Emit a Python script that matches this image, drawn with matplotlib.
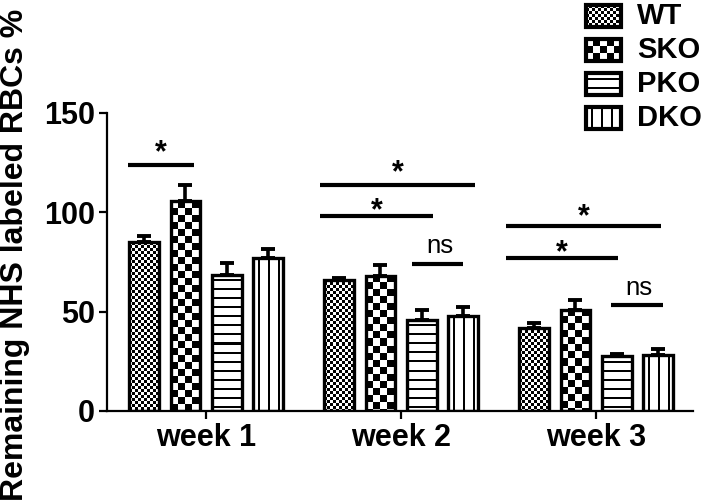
import numpy as np
import matplotlib
matplotlib.use("Agg")
import matplotlib.pyplot as plt
from matplotlib.patches import Rectangle

plt.rcParams['font.family'] = ['Liberation Sans', 'DejaVu Sans']

# data
weeks = ["week 1", "week 2", "week 3"]
groups = ["WT", "SKO", "PKO", "DKO"]
patterns = ["fine", "coarse", "hline", "vline"]
means = {
    "WT":  [85, 66, 42],
    "SKO": [105.5, 68, 51],
    "PKO": [68.5, 46, 27.5],
    "DKO": [77, 48, 28],
}
errs = {
    "WT":  [3, 1, 2.5],
    "SKO": [8.5, 5.5, 5],
    "PKO": [6, 5, 1],
    "DKO": [4.5, 4.5, 3],
}
# significance brackets: (x start, x end, line y, label, label y)
brackets = [
    (-0.40, -0.06, 124, "*", 125.5),
    (0.585, 1.38, 114, "*", 115.5),
    (0.585, 1.164, 98, "*", 96.5),
    (1.056, 1.318, 74, "ns", 79.5),
    (1.54, 2.333, 93, "*", 93.5),
    (1.54, 2.113, 77, "*", 75.5),
    (2.077, 2.344, 53.5, "ns", 58.5),
]
yticks = [0, 50, 100, 150]

W, H = 702, 500
fig = plt.figure(figsize=(W / 100, H / 100), dpi=100)
ax = fig.add_axes([107 / W, 89 / H, 586 / W, 298 / H])
ax.set_xlim(-0.508, 2.497)
ax.set_ylim(0, 150)


def texture(kind, w, h):
    i, j = np.mgrid[0:h, 0:w]
    if kind == "fine":
        return ((i // 3 + j // 3) % 2).astype(float)
    if kind == "coarse":
        return ((i // 7 + j // 7) % 2).astype(float)
    if kind == "hline":
        return ((i + 4) % 9 < 2).astype(float)
    return ((j + 5) % 10 < 2).astype(float)


def fill_texture(axis, kind, x0, x1, y0, y1, z=2.5):
    p = axis.transData.transform([(x0, y0), (x1, y1)])
    w = max(int(round(abs(p[1, 0] - p[0, 0]))), 1)
    h = max(int(round(abs(p[1, 1] - p[0, 1]))), 1)
    axis.imshow(texture(kind, w, h), cmap="gray_r", vmin=0, vmax=1,
                extent=(x0, x1, y0, y1), aspect="auto",
                interpolation="nearest", zorder=z)


x = np.arange(len(weeks))
width = 0.152
step = 0.212
for k, g in enumerate(groups):
    xs = x + (k - 1.5) * step
    bars = ax.bar(xs, means[g], width, color="white", edgecolor="none", zorder=2)
    for b in bars:
        fill_texture(ax, patterns[k], b.get_x(), b.get_x() + b.get_width(),
                     0, b.get_height())
    ax.bar(xs, means[g], width, fill=False, edgecolor="black", linewidth=2.4, zorder=3)
    ax.errorbar(xs, means[g], yerr=[np.zeros(len(weeks)), errs[g]], fmt="none",
                ecolor="black", elinewidth=2.6, capsize=4.7, capthick=2.8, zorder=2.8)

for xa, xb, yl, lab, ylab in brackets:
    ax.plot([xa, xb], [yl, yl], color="black", lw=3, solid_capstyle="butt",
            clip_on=False, zorder=4)
    if lab == "*":
        ax.text((xa + xb) / 2, ylab, lab, ha="center", va="baseline",
                fontsize=22, fontweight="bold")
    else:
        ax.text((xa + xb) / 2 + 0.01, ylab, lab, ha="center", va="baseline",
                fontsize=18.5)

ax.set_xlim(-0.508, 2.497)
ax.set_ylim(0, 150)
ax.set_xticks(x)
ax.set_xticklabels(weeks, fontsize=22, fontweight="bold")
ax.set_yticks(yticks)
ax.set_yticklabels([str(t) for t in yticks], fontsize=22, fontweight="bold")
ax.tick_params(axis="both", direction="out", length=5.5, width=1.6, pad=3)
for s in ["top", "right"]:
    ax.spines[s].set_visible(False)
for s in ["left", "bottom"]:
    ax.spines[s].set_linewidth(1.6)

fig.text(15 / W, 1 - 255 / H, "Remaining NHS labeled RBCs %", rotation=90,
         ha="center", va="center", fontsize=23, fontweight="bold")

# legend drawn on a pixel-space overlay
lax = fig.add_axes([0, 0, 1, 1])
lax.set_xlim(0, W)
lax.set_ylim(H, 0)
lax.axis("off")
for k, g in enumerate(groups):
    top = 5 + 34 * k
    fill_texture(lax, patterns[k], 586, 621, top + 22, top, z=2)
    lax.add_patch(Rectangle((586, top), 35, 22, fill=False, edgecolor="black",
                            linewidth=3, zorder=3))
    lax.text(637, top + 11, g, ha="left", va="center", fontsize=21,
             fontweight="bold")
lax.set_xlim(0, W)
lax.set_ylim(H, 0)

fig.savefig("out.png", dpi=100)
